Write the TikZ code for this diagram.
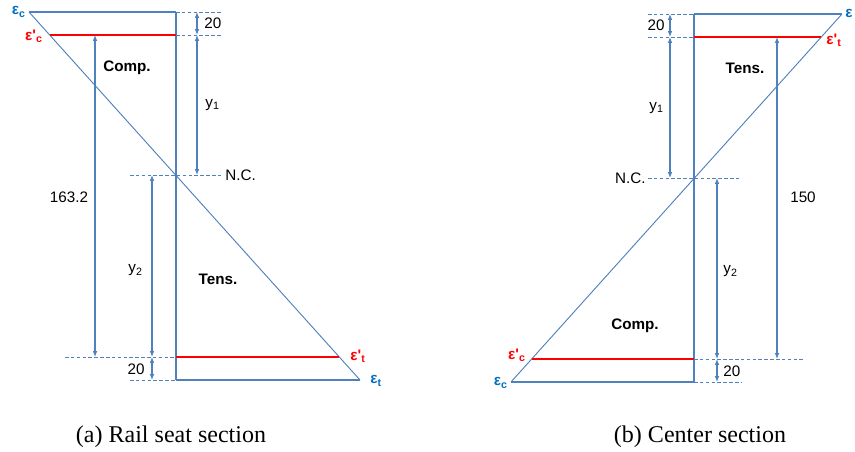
\documentclass[tikz,border=0pt]{standalone}
\usepackage{fontspec}
\setmainfont{Liberation Serif}
\setsansfont{Liberation Sans}
\usepackage{xcolor}
\usetikzlibrary{arrows.meta,positioning,calc}
\definecolor{lineblue}{RGB}{79,129,189}
\definecolor{epsblue}{RGB}{0,112,192}

\begin{document}
\begin{tikzpicture}[x=0.03cm,y=-0.03cm]
  \tikzstyle{sect}=[lineblue,line width=2pt]
  \tikzstyle{web}=[lineblue,line width=1.2pt]
  \tikzstyle{strain}=[lineblue,line width=0.8pt]
  \tikzstyle{rebar}=[red,line width=1.6pt]
  \tikzstyle{guide}=[lineblue,dash pattern=on 3pt off 2pt,line width=0.6pt]
  \tikzstyle{dim}=[lineblue,line width=1.1pt,{Latex[length=5pt,width=4pt]}-{Latex[length=5pt,width=4pt]}]
  \tikzstyle{lbl}=[font=\sffamily\fontsize{13}{15}\selectfont,inner sep=1pt]
  \tikzstyle{zone}=[font=\sffamily\bfseries\fontsize{13}{15}\selectfont]
  \tikzstyle{eps}=[font=\sffamily\bfseries\fontsize{13}{15}\selectfont,inner sep=1pt]
  \tikzstyle{caption}=[font=\fontsize{20.5}{23}\selectfont]
  \useasboundingbox (0,0) rectangle (855,452);

  % (a) rail seat section
  \coordinate (aTL) at (29,12);
  \coordinate (aTR) at (176,12);
  \coordinate (aBL) at (176,380);
  \coordinate (aBR) at (360,380);
  \coordinate (aNC) at (176,175);
  \coordinate (aRc) at (49.7,35);
  \coordinate (aRcE) at (176,35);
  \coordinate (aRt) at (339.3,357);
  \coordinate (aRtW) at (176,357);
  \draw[sect] (aTL) -- (aTR);
  \draw[sect] (aBL) -- (aBR);
  \draw[web] (aTR) -- (aBL);
  \draw[strain] (aTL) -- (aBR);
  \draw[rebar] (aRc) -- (aRcE);
  \draw[rebar] (aRtW) -- (aRt);
  \draw[guide] (aTR) -- (222,12);
  \draw[guide] (aRcE) -- (222,35);
  \draw[guide] (130,175) -- (222,175);
  \draw[guide] (65,357) -- (aRtW);
  \draw[guide] (130,380) -- (aBL);
  \draw[dim] (197,12) -- (197,35);
  \draw[dim] (197,35) -- (197,175);
  \draw[dim] (95,35) -- (95,357);
  \draw[dim] (152,175) -- (152,357);
  \draw[dim] (152,357) -- (152,380);
  \node[lbl,anchor=west] (a20t) at (203,23) {20};
  \node[lbl,anchor=west] (ay1) at (204,105) {y\textsubscript{1}};
  \node[lbl,anchor=west] (anc) at (224,175) {N.C.};
  \node[lbl] (ah) at (69,197) {163.2};
  \node[lbl,anchor=east] (ay2) at (144,270) {y\textsubscript{2}};
  \node[lbl,anchor=east] (a20b) at (146,369) {20};
  \node[zone] (acomp) at (127,68) {Comp.};
  \node[zone] (atens) at (218,279) {Tens.};
  \node[eps,epsblue,anchor=east] (aec) at (27,12) {ε\textsubscript{c}};
  \node[eps,red,anchor=east] (aecp) at (44,36) {ε\textquotesingle\textsubscript{c}};
  \node[eps,red,anchor=west] (aetp) at (349,356) {ε\textquotesingle\textsubscript{t}};
  \node[eps,epsblue,anchor=west] (aet) at (369,381) {ε\textsubscript{t}};
  \node[caption] (capa) at (171,437) {(a) Rail seat section};

  % (b) center section
  \coordinate (bTL) at (694,14);
  \coordinate (bTR) at (842,14);
  \coordinate (bBL) at (511,382);
  \coordinate (bBR) at (694,382);
  \coordinate (bNC) at (694,178);
  \coordinate (bRt) at (821.3,37);
  \coordinate (bRtW) at (694,37);
  \coordinate (bRc) at (531.7,359);
  \coordinate (bRcE) at (694,359);
  \draw[sect] (bTL) -- (bTR);
  \draw[sect] (bBL) -- (bBR);
  \draw[web] (bTL) -- (bBR);
  \draw[strain] (bTR) -- (bBL);
  \draw[rebar] (bRtW) -- (bRt);
  \draw[rebar] (bRc) -- (bRcE);
  \draw[guide] (648,14) -- (bTL);
  \draw[guide] (648,37) -- (bRtW);
  \draw[guide] (648,178) -- (740,178);
  \draw[guide] (bRcE) -- (805,359);
  \draw[guide] (bBR) -- (741,382);
  \draw[dim] (670,14) -- (670,37);
  \draw[dim] (670,37) -- (670,178);
  \draw[dim] (717,178) -- (717,359);
  \draw[dim] (717,359) -- (717,382);
  \draw[dim] (777,37) -- (777,359);
  \node[lbl,anchor=east] (b20t) at (666,25) {20};
  \node[lbl,anchor=east] (by1) at (665,108) {y\textsubscript{1}};
  \node[lbl,anchor=east] (bnc) at (647,178) {N.C.};
  \node[lbl] (bh) at (803,197) {150};
  \node[lbl,anchor=west] (by2) at (722,271) {y\textsubscript{2}};
  \node[lbl,anchor=west] (b20b) at (722,371) {20};
  \node[zone] (btens) at (745,68) {Tens.};
  \node[zone] (bcomp) at (635,326) {Comp.};
  \node[eps,epsblue,anchor=west] (bet) at (844,13) {ε};
  \node[eps,red,anchor=west] (betp) at (825,40) {ε\textquotesingle\textsubscript{t}};
  \node[eps,red,anchor=east] (becp) at (527,355) {ε\textquotesingle\textsubscript{c}};
  \node[eps,epsblue,anchor=east] (bec) at (509,383) {ε\textsubscript{c}};
  \node[caption] (capb) at (700,437) {(b) Center section};
\end{tikzpicture}
\end{document}
